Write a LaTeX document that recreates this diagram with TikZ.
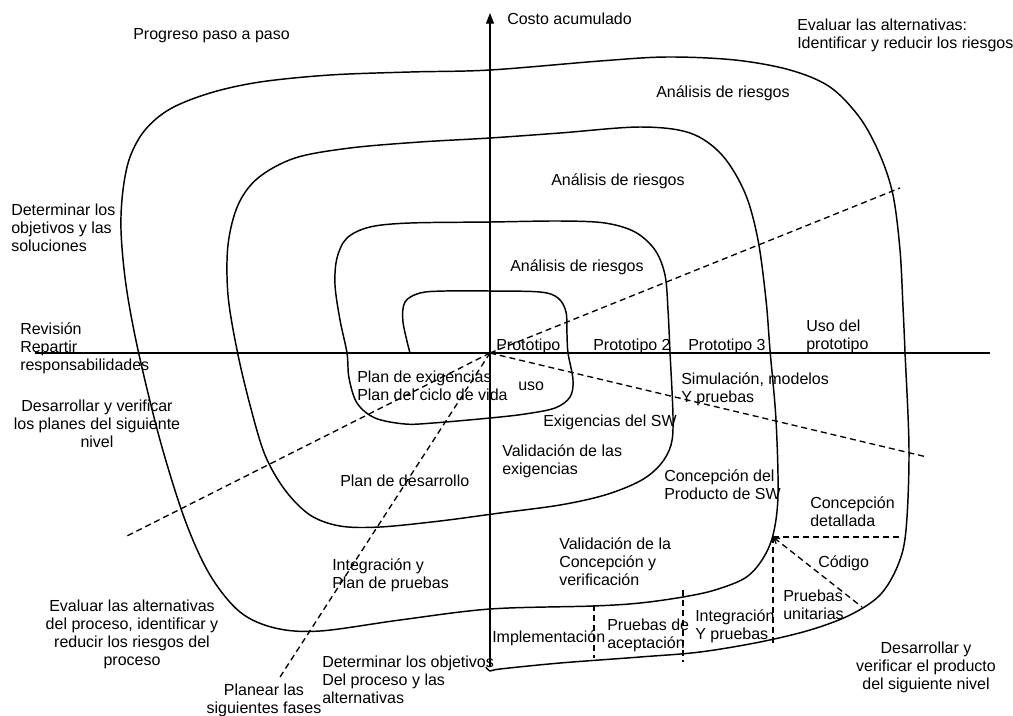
\documentclass[tikz,border=0pt]{standalone}
\usepackage{fontspec}
\setmainfont{Liberation Sans}
\usetikzlibrary{arrows.meta}
\begin{document}
\begin{tikzpicture}[x=0.75pt,y=-0.75pt,
  lbl/.style={inner sep=0pt, font=\fontsize{12}{13.5}\selectfont, align=left, anchor=west},
  clbl/.style={inner sep=0pt, font=\fontsize{12}{13.5}\selectfont, align=center, anchor=center},
  spiral/.style={line width=1.1pt, line join=round},
  axis/.style={line width=0.8pt},
  guide/.style={line width=1pt, dash pattern=on 4.5pt off 3pt}]
\useasboundingbox (0,0) rectangle (1013,715);

% axes
\coordinate (O) at (490,353);
\coordinate (xl) at (35,353);
\coordinate (xr) at (990,353);
\coordinate (yb) at (490,667);
\coordinate (yt) at (490,13);
\draw[axis] (xl) -- (xr);
\draw[axis,-{Triangle[width=6pt,length=8pt]}] (yb) -- (yt);

% spiral
\draw[spiral] plot[smooth, tension=0.55] coordinates {
 (410,353) (403,322) (405,302) (420,293) (445,291) (490,291) (540,292)
 (558,298) (566,312) (567,335) (568,353) (573,380) (570,397) (555,408)
 (525,414) (490,418) (433,423) (405,424) (375,418) (357,403) (349,378)
 (347,353) (340,320) (335,285) (337,258) (347,238) (370,227) (410,223)
 (490,222) (560,221) (605,223) (635,232) (655,250) (665,275) (668,310)
 (670,352) (673,417) (671,445) (660,465) (640,481) (605,495) (560,505)
 (500,513) (440,521) (380,527) (340,526) (310,515) (285,490) (265,455)
 (250,405) (237,350) (228,295) (228,245) (238,205) (258,178) (295,158)
 (350,148) (420,142) (490,138) (560,133) (640,127) (690,133) (722,155)
 (745,193) (758,240) (766,300) (770,350) (776,420) (778,495) (773,535)
 (762,560) (745,578) (715,590) (683,597) (640,603) (593,606) (490,609)
 (400,620) (320,631) (275,628) (240,612) (210,575) (185,520) (160,440)
 (138,350) (126,285) (121,230) (123,190) (130,157) (145,130) (170,109)
 (210,93) (260,82) (330,75) (410,72) (490,70) (600,61) (667,57) (735,60)
 (790,70) (830,87) (860,118) (880,155) (893,195) (900,250) (903,307)
 (905,352) (909,450) (906,530) (898,565) (880,595) (850,615) (810,630)
 (760,642) (700,652) (640,657) (560,663) (500,669) (490,671) (486,667)};

% sector guides
\coordinate (g1) at (900,188);
\coordinate (g2) at (125,537);
\coordinate (g3) at (927,457);
\coordinate (g4) at (280,677);
\draw[guide] (O) -- (g1);
\draw[guide] (O) -- (g2);
\draw[guide] (O) -- (g3);
\draw[guide] (O) -- (g4);

% development steps in the last turn
\coordinate (c) at (773,537);
\coordinate (ch) at (903,537);
\coordinate (cv) at (773,643);
\coordinate (cd) at (862,607);
\coordinate (a1) at (594,605);
\coordinate (a2) at (594,658);
\coordinate (b1) at (683,590);
\coordinate (b2) at (683,662);
\draw[guide] (c) -- (ch);
\draw[guide] (c) -- (cv);
\draw[guide,{Straight Barb[length=4pt,width=5pt]}-] (c) -- (cd);
\draw[guide] (a1) -- (a2);
\draw[guide] (b1) -- (b2);

% labels
\node[lbl] (costo) at (507,19) {Costo acumulado};
\node[lbl] (prog) at (133,36) {Progreso paso a paso};
\node[lbl] (evalr) at (797,35) {Evaluar las alternativas:\\Identificar y reducir los riesgos};
\node[lbl] (ar1) at (656,93) {Análisis de riesgos};
\node[lbl] (ar2) at (551,181) {Análisis de riesgos};
\node[lbl] (ar3) at (510,267) {Análisis de riesgos};
\node[lbl] (det) at (11,228) {Determinar los\\objetivos y las\\soluciones};
\node[lbl] (rev) at (20,348) {Revisión\\Repartir\\responsabilidades};
\node[clbl] (desp) at (97,424) {Desarrollar y verificar\\los planes del siguiente\\nivel};
\node[lbl] (p1) at (496,346) {Prototipo};
\node[lbl] (p2) at (593,346) {Prototipo 2};
\node[lbl] (p3) at (688,346) {Prototipo 3};
\node[lbl] (usop) at (806,336) {Uso del\\prototipo};
\node[lbl] (planex) at (357,386) {Plan de exigencias\\Plan del ciclo de vida};
\node[lbl] (uso) at (518,386) {uso};
\node[lbl] (sim) at (681,389) {Simulación, modelos\\Y pruebas};
\node[lbl] (exsw) at (543,422) {Exigencias del SW};
\node[lbl] (valex) at (502,461) {Validación de las\\exigencias};
\node[lbl] (pdes) at (340,481) {Plan de desarrollo};
\node[lbl] (cprod) at (664,485) {Concepción del\\Producto de SW};
\node[lbl] (cdet) at (810,512) {Concepción\\detallada};
\node[lbl] (cod) at (818,563) {Código};
\node[lbl] (intp) at (332,575) {Integración y\\Plan de pruebas};
\node[lbl] (valc) at (559,562) {Validación de la\\Concepción y\\verificación};
\node[lbl] (pu) at (783,605) {Pruebas\\unitarias};
\node[lbl] (intyp) at (695,626) {Integración\\Y pruebas};
\node[lbl] (impl) at (492,638) {Implementación};
\node[lbl] (pacep) at (607,635) {Pruebas de\\aceptación};
\node[clbl] (evp) at (132,634) {Evaluar las alternativas\\del proceso, identificar y\\reducir los riesgos del\\proceso};
\node[lbl] (detp) at (322,680) {Determinar los objetivos\\Del proceso y las\\alternativas};
\node[clbl] (plan) at (264,700) {Planear las\\siguientes fases};
\node[clbl] (desprod) at (926,667) {Desarrollar y\\verificar el producto\\del siguiente nivel};
\end{tikzpicture}
\end{document}
